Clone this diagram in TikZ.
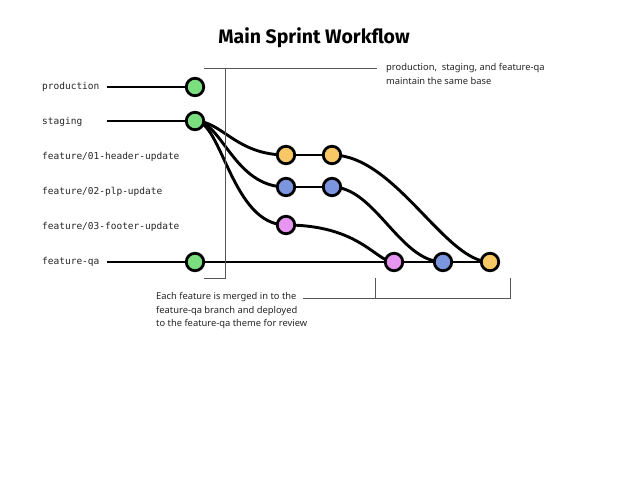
\documentclass[tikz,border=0pt]{standalone}
\usepackage{fontspec}
\setmainfont{Noto Sans}
\newfontfamily\titlefont{Fira Sans}
\newfontfamily\labelmono{DejaVu Sans Mono}
\definecolor{cgreen}{HTML}{7BDF7F}
\definecolor{corange}{HTML}{F7C865}
\definecolor{cblue}{HTML}{7B96DE}
\definecolor{cpink}{HTML}{E895F2}
\definecolor{bracketgray}{HTML}{555555}
\begin{document}
\begin{tikzpicture}[x=1pt,y=-1pt,
  commit/.style={circle,draw=black,line width=2.8pt,minimum size=17.5pt,inner sep=0pt},
  branch/.style={line width=2.9pt,black},
  bracket/.style={line width=0.9pt,bracketgray},
  blabel/.style={anchor=west,font=\labelmono\fontsize{9.5}{11}\selectfont,text=black!85,inner sep=0pt},
  note/.style={anchor=north west,align=left,font=\fontsize{9.35}{13.5}\selectfont,text=black!85,inner sep=0pt}]
\useasboundingbox[fill=white] (0,0) rectangle (630,487);
\node[font=\titlefont\bfseries\fontsize{19.5}{22}\selectfont] (title) at (314,38) {Main Sprint Workflow};

% labels
\node[blabel] (lprod) at (42,87) {production};
\node[blabel] (lstag) at (42,122) {staging};
\node[blabel] (lf1) at (42,157) {feature/01-header-update};
\node[blabel] (lf2) at (42,192) {feature/02-plp-update};
\node[blabel] (lf3) at (42,227) {feature/03-footer-update};
\node[blabel] (lqa) at (42,262) {feature-qa};

\coordinate (sprod) at (107,87);
\coordinate (sstag) at (107,121);
\coordinate (sqa) at (107,262);

% commits (positions)
\coordinate (prod) at (195,87);
\coordinate (stag) at (195,121);
\coordinate (qa) at (195,262);
\coordinate (o1) at (286,155);
\coordinate (o2) at (332,155);
\coordinate (b1) at (286,187);
\coordinate (b2) at (332,187);
\coordinate (p1) at (286,225);
\coordinate (pm) at (394,262);
\coordinate (bm) at (443,262);
\coordinate (om) at (490,262);

% branch lines
\draw[branch] (sprod) -- (prod);
\draw[branch] (sstag) -- (stag);
\draw[branch] (sqa) -- (om);
\draw[branch] (o1) -- (o2);
\draw[branch] (b1) -- (b2);
\draw[branch] (stag) .. controls (222,121) and (236,155) .. (o1);
\draw[branch] (stag) .. controls (222,121) and (234,187) .. (b1);
\draw[branch] (stag) .. controls (222,121) and (232,225) .. (p1);
\draw[branch] (o2) .. controls (395,155) and (445,262) .. (om);
\draw[branch] (b2) .. controls (375,187) and (400,262) .. (bm);
\draw[branch] (p1) .. controls (360,225) and (376,262) .. (pm);

% commit circles on top
\node[commit,fill=cgreen] (cprod) at (prod) {};
\node[commit,fill=cgreen] (cstag) at (stag) {};
\node[commit,fill=cgreen] (cqa) at (qa) {};
\node[commit,fill=corange] (co1) at (o1) {};
\node[commit,fill=corange] (co2) at (o2) {};
\node[commit,fill=cblue] (cb1) at (b1) {};
\node[commit,fill=cblue] (cb2) at (b2) {};
\node[commit,fill=cpink] (cp1) at (p1) {};
\node[commit,fill=cpink] (cpm) at (pm) {};
\node[commit,fill=cblue] (cbm) at (bm) {};
\node[commit,fill=corange] (com) at (om) {};

% brackets
\coordinate (t1) at (204,68);
\coordinate (t2) at (377,68);
\coordinate (v1) at (225,68);
\coordinate (v2) at (225,278);
\coordinate (bl) at (204,278);
\draw[bracket] (t1) -- (t2);
\draw[bracket] (v1) -- (v2) -- (bl);
\node[note] (n1) at (386,63.5) {production,\ \ staging, and feature-qa\\maintain the same base};

\coordinate (b1a) at (375,278);
\coordinate (b1b) at (375,298);
\coordinate (b2a) at (510,278);
\coordinate (b2b) at (510,298);
\coordinate (bstart) at (303,298);
\draw[bracket] (bstart) -- (b2b) -- (b2a);
\draw[bracket] (b1a) -- (b1b);
\node[note] (n2) at (156,292.5) {Each feature is merged in to the\\feature-qa branch and deployed\\to the feature-qa theme for review};
\end{tikzpicture}
\end{document}
